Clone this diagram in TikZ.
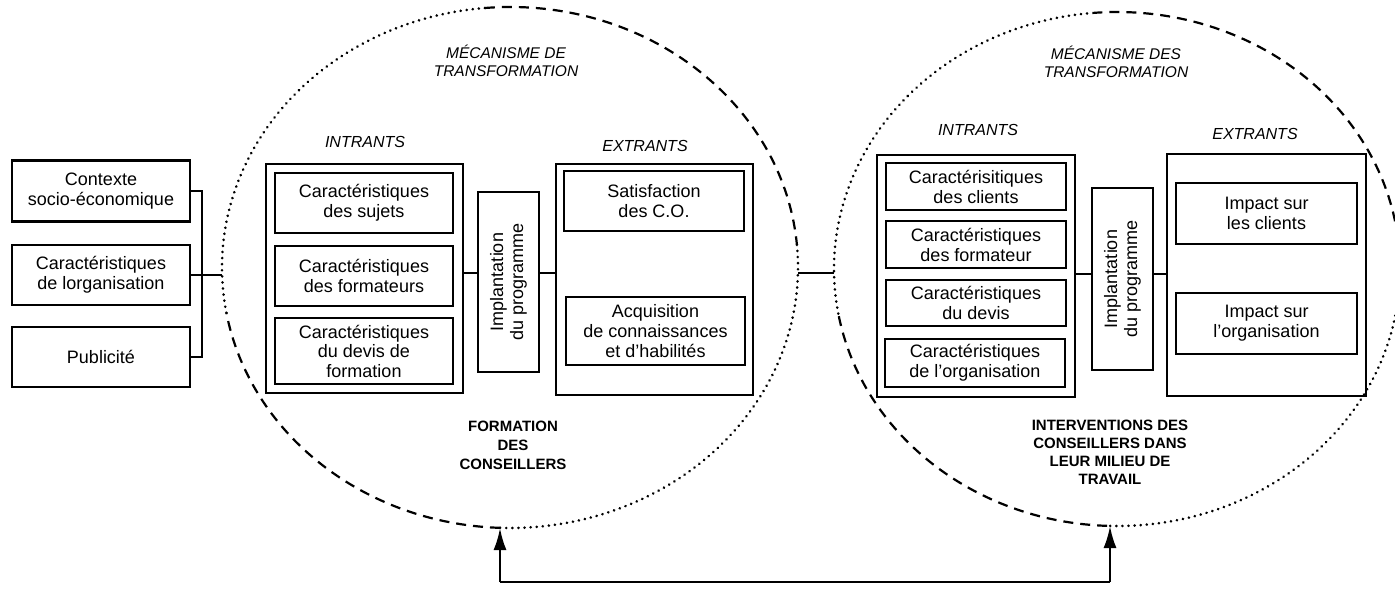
\documentclass[tikz,border=0pt]{standalone}
\usepackage{fontspec}
\setmainfont{Liberation Sans}
\usetikzlibrary{arrows.meta,calc}
\begin{document}
\begin{tikzpicture}[x=1pt,y=-1pt,
  box/.style={draw,line width=2.4pt,align=center,inner sep=0pt,font=\fontsize{18}{20}\selectfont},
  outer/.style={draw,line width=2.4pt,inner sep=0pt},
  vtext/.style={rotate=90,align=center,inner sep=0pt,font=\fontsize{18}{20}\selectfont},
  head/.style={align=center,font=\fontsize{15.5}{18}\selectfont\itshape},
  title/.style={align=center,font=\fontsize{15}{19}\selectfont\bfseries},
  dotline/.style={line width=2.8pt,line cap=round,dash pattern=on 0.1pt off 6pt},
  dashline/.style={line width=2.2pt,dash pattern=on 10pt off 7pt},
  conn/.style={line width=2.4pt},
  arr/.style={line width=2.4pt,-{Latex[length=22pt,width=13pt]}}]
\useasboundingbox (0,0) rectangle (1395,591);

% ellipse reference points
\coordinate (C1c) at (510,267.5);
\coordinate (C2c) at (1117,269);
\coordinate (C1w) at (222,267.5);
\coordinate (C1e) at (798,267.5);
\coordinate (C2w) at (834,269);
\coordinate (C1s) at (500,528);
\coordinate (C2s) at (1110,526);
\coordinate (m) at (0,273);
\coordinate (m2) at (0,274);

% left circle
\draw[dotline]  ($(C1c)+(170:288 and 260.5)$) arc[start angle=170,end angle=265,x radius=288,y radius=260.5];
\draw[dashline] ($(C1c)+(265:288 and 260.5)$) arc[start angle=265,end angle=355,x radius=288,y radius=260.5];
\draw[dotline]  ($(C1c)+(-5:288 and 260.5)$) arc[start angle=-5,end angle=92,x radius=288,y radius=260.5];
\draw[dashline] ($(C1c)+(92:288 and 260.5)$) arc[start angle=92,end angle=170,x radius=288,y radius=260.5];
% right circle
\draw[dotline]  ($(C2c)+(170:283 and 257)$) arc[start angle=170,end angle=265,x radius=283,y radius=257];
\draw[dashline] ($(C2c)+(265:283 and 257)$) arc[start angle=265,end angle=365,x radius=283,y radius=257];
\draw[dotline]  ($(C2c)+(5:283 and 257)$) arc[start angle=5,end angle=92,x radius=283,y radius=257];
\draw[dashline] ($(C2c)+(92:283 and 257)$) arc[start angle=92,end angle=170,x radius=283,y radius=257];

% outside boxes
\node[box,minimum width=178,minimum height=61] (ctx) at (101,191) {Contexte\\socio-économique};
\node[box,minimum width=178,minimum height=60] (orgL) at (101,275) {Caractéristiques\\de lorganisation};
\node[box,minimum width=178,minimum height=60] (pub) at (101,357) {Publicité};
\draw[conn] (ctx.east) -- ++(11,0) |- (pub.east);
\draw[conn] (orgL.east) -- (orgL.east -| C1w);

% left mechanism
\node[head] (mec1) at (506,61) {MÉCANISME DE\\TRANSFORMATION};
\node[head,font=\fontsize{16}{18}\selectfont\itshape] (int1) at (365,142) {INTRANTS};
\node[head,font=\fontsize{16}{18}\selectfont\itshape] (ext1) at (645,146) {EXTRANTS};
\node[outer,minimum width=197,minimum height=229] (in1) at (364.5,278.5) {};
\node[box,minimum width=178,minimum height=60] (s1) at (364,203) {Caractéristiques\\des sujets};
\node[box,minimum width=178,minimum height=60] (s2) at (364,276) {Caractéristiques\\des formateurs};
\node[box,minimum width=178,minimum height=66,font=\fontsize{18}{19.5}\selectfont] (s3) at (364,351) {Caractéristiques\\du devis de\\formation};
\node[box,minimum width=61,minimum height=180] (impL) at (508.5,282) {};
\node[vtext] (impLt) at (impL) {Implantation\\du programme};
\node[outer,minimum width=197,minimum height=231] (ex1) at (654.5,279.5) {};
\node[box,minimum width=180,minimum height=60] (sat) at (654,201) {Satisfaction\\des C.O.};
\node[box,minimum width=179,minimum height=68] (acq) at (655.5,331) {Acquisition\\de connaissances\\et d'habilités};
\draw[conn] (in1.east |- m) -- (impL.west |- m);
\draw[conn] (impL.east |- m) -- (ex1.west |- m);
\node[title] (form) at (513,445) {FORMATION\\DES\\CONSEILLERS};

% link between circles
\draw[conn] (C1e |- m) -- (C2w |- m);

% right mechanism
\node[head] (mec2) at (1116,61.5) {MÉCANISME DES\\TRANSFORMATION};
\node[head,font=\fontsize{16}{18}\selectfont\itshape] (int2) at (978,130) {INTRANTS};
\node[head,font=\fontsize{16}{18}\selectfont\itshape] (ext2) at (1255,134) {EXTRANTS};
\node[outer,minimum width=198,minimum height=242] (in2) at (976,276) {};
\node[box,minimum width=180,minimum height=47] (r1) at (976,186.5) {Caractérisitiques\\des clients};
\node[box,minimum width=180,minimum height=47] (r2) at (976,244.5) {Caractéristiques\\des formateur};
\node[box,minimum width=180,minimum height=46] (r3) at (976,303) {Caractéristiques\\du devis};
\node[box,minimum width=180,minimum height=48] (r4) at (975,363) {Caractéristiques\\de l'organisation};
\node[box,minimum width=61,minimum height=182] (impR) at (1122.5,279) {};
\node[vtext] (impRt) at (impR) {Implantation\\du programme};
\node[outer,minimum width=199,minimum height=242] (ex2) at (1266.5,275) {};
\node[box,minimum width=181,minimum height=61] (ic) at (1266.5,213.5) {Impact sur\\les clients};
\node[box,minimum width=181,minimum height=61] (io) at (1266.5,323.5) {Impact sur\\l'organisation};
\draw[conn] (in2.east |- m2) -- (impR.west |- m2);
\draw[conn] (impR.east |- m2) -- (ex2.west |- m2);
\node[title,font=\fontsize{15}{18}\selectfont\bfseries] (interv) at (1110,452) {INTERVENTIONS DES\\CONSEILLERS DANS\\LEUR MILIEU DE\\TRAVAIL};

% feedback arrow
\coordinate (bl) at (500,582);
\coordinate (br) at (1110,582);
\draw[arr] (bl) -- (C1s);
\draw[arr] (br) -- (C2s);
\draw[conn] (bl) -- (br);
\end{tikzpicture}
\end{document}
